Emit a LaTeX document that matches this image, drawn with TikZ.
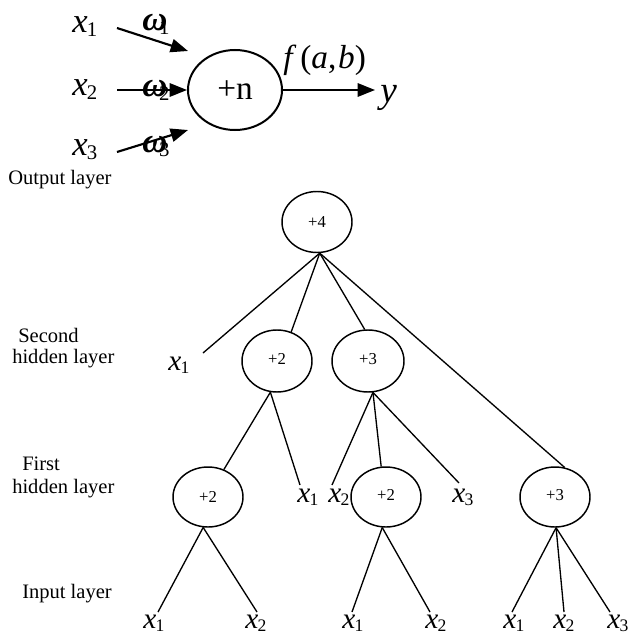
\documentclass[tikz,border=0pt]{standalone}
\usepackage{fontspec}
\usepackage{graphicx}
\setmainfont{Liberation Serif}
\usetikzlibrary{shapes.geometric,arrows.meta}

% italic variable with a lowered, reduced index
\newcommand\varsub[2]{\textit{#1}\kern-0.02em\raisebox{-0.12em}{\scalebox{0.6}{#2}}}
% weight symbol omega with an overlapping index
\newcommand\wsub[1]{{\bfseries\itshape ω}\kern-0.24em\raisebox{-0.12em}{\scalebox{0.6}{#1}}}

\begin{document}
\begin{tikzpicture}[x=0.75pt,y=-0.75pt,
  neuron/.style={draw, ellipse, line width=1.5pt, inner sep=0pt,
    minimum width=70.5pt, minimum height=60pt, font=\fontsize{25}{30}\selectfont},
  sumnode/.style={draw, ellipse, line width=1.1pt, inner sep=0pt,
    minimum width=52.5pt, minimum height=45.75pt, font=\fontsize{12.5}{14}\selectfont},
  bigvar/.style={anchor=base west, inner sep=0pt, font=\fontsize{26}{30}\selectfont},
  treevar/.style={anchor=base west, inner sep=0pt, font=\fontsize{22}{26}\selectfont},
  layerlabel/.style={anchor=base west, inner sep=0pt, font=\fontsize{15.4}{18}\selectfont},
  arrowline/.style={line width=1.6pt, -{Triangle[length=13pt,width=10pt]}},
  edge/.style={line width=1pt}]

\useasboundingbox (0,0) rectangle (635,639);

% ---------- single neuron ----------
\node[neuron] (sum) at (235,90) {+n};

\node[bigvar] (ix1) at (72,32)  {\varsub{x}{1}};
\node[bigvar] (ix2) at (72,95)  {\varsub{x}{2}};
\node[bigvar] (ix3) at (72,155) {\varsub{x}{3}};

\coordinate (s1) at (117,28);
\coordinate (t1) at (188,51);
\coordinate (s2) at (117,90);
\coordinate (s3) at (117,152);
\coordinate (t3) at (188,130);
\coordinate (yend) at (375,90);

\draw[arrowline] (s1) -- (t1);
\draw[arrowline] (s2) -- (sum.west);
\draw[arrowline] (s3) -- (t3);
\draw[arrowline] (sum.east) -- (yend);

\node[bigvar] (w1) at (142,30) {\wsub{1}};
\node[bigvar] (w2) at (142,96) {\wsub{2}};
\node[bigvar] (w3) at (142,152) {\wsub{3}};

\node[anchor=base west, inner sep=0pt, font=\fontsize{25}{30}\selectfont] (fab) at (283,68)
  {\textit{f}\kern0.12em(\textit{a},\kern0.05em\textit{b})};
\node[anchor=base west, inner sep=0pt, font=\fontsize{28}{32}\selectfont] (yout) at (380,102) {\textit{y}};

% ---------- layer captions ----------
\node[layerlabel] (lout)  at (8,184)  {Output layer};
\node[layerlabel] (lsec)  at (18,342) {Second};
\node[layerlabel] (lsech) at (12,363) {hidden layer};
\node[layerlabel] (lfir)  at (22,470) {First};
\node[layerlabel] (lfirh) at (12,493) {hidden layer};
\node[layerlabel] (linp)  at (22,598) {Input layer};

% ---------- network tree ----------
\node[sumnode] (n4) at (317,222) {+4};
\node[sumnode, minimum height=46.5pt] (n2a) at (277,361) {\raisebox{0.2em}{+2}};
\node[sumnode, minimum height=46.5pt, minimum width=54pt] (n3a) at (368,361) {\raisebox{0.2em}{+3}};
\node[sumnode, minimum height=45pt] (n2b) at (208,497) {+2};
\node[sumnode, minimum height=45pt] (n2c) at (386,497) {\raisebox{0.2em}{+2}};
\node[sumnode, minimum height=45pt] (n3c) at (555,497) {\raisebox{0.2em}{+3}};

% variables feeding the hidden layers
\node[treevar] (hx1a) at (168,370) {\varsub{x}{1}};
\node[treevar] (hx1b) at (297,502) {\varsub{x}{1}};
\node[treevar] (hx2b) at (328,502) {\varsub{x}{2}};
\node[treevar] (hx3b) at (452,502) {\varsub{x}{3}};

% input layer variables
\node[treevar] (in1) at (143,628) {\varsub{x}{1}};
\node[treevar] (in2) at (245,628) {\varsub{x}{2}};
\node[treevar] (in3) at (342,628) {\varsub{x}{1}};
\node[treevar] (in4) at (425,628) {\varsub{x}{2}};
\node[treevar] (in5) at (503,628) {\varsub{x}{1}};
\node[treevar] (in6) at (553,628) {\varsub{x}{2}};
\node[treevar] (in7) at (607,628) {\varsub{x}{3}};

% free ends of the connectors next to the variables
\coordinate (e1a) at (203,353);
\coordinate (e1b) at (300,485);
\coordinate (e2b) at (332,485);
\coordinate (e3b) at (459,483);
\coordinate (p1) at (158,612);
\coordinate (p2) at (257,612);
\coordinate (p3) at (352,612);
\coordinate (p4) at (430,612);
\coordinate (p5) at (512,612);
\coordinate (p6) at (564,612);
\coordinate (p7) at (610,612);

\draw[edge] (n4.-85) -- (e1a);
\draw[edge] (n4.-85) -- (n2a.64);
\draw[edge] (n4.-85) -- (n3a.96);
\draw[edge] (n4.-85) -- (n3c.72);

\draw[edge] (n2a.258) -- (n2b.60);
\draw[edge] (n2a.258) -- (e1b);

\draw[edge] (n3a.279) -- (e2b);
\draw[edge] (n3a.279) -- (n2c.99);
\draw[edge] (n3a.279) -- (e3b);

\draw[edge] (n2b.261) -- (p1);
\draw[edge] (n2b.261) -- (p2);
\draw[edge] (n2c.263) -- (p3);
\draw[edge] (n2c.263) -- (p4);
\draw[edge] (n3c.272) -- (p5);
\draw[edge] (n3c.272) -- (p6);
\draw[edge] (n3c.272) -- (p7);

\end{tikzpicture}
\end{document}
